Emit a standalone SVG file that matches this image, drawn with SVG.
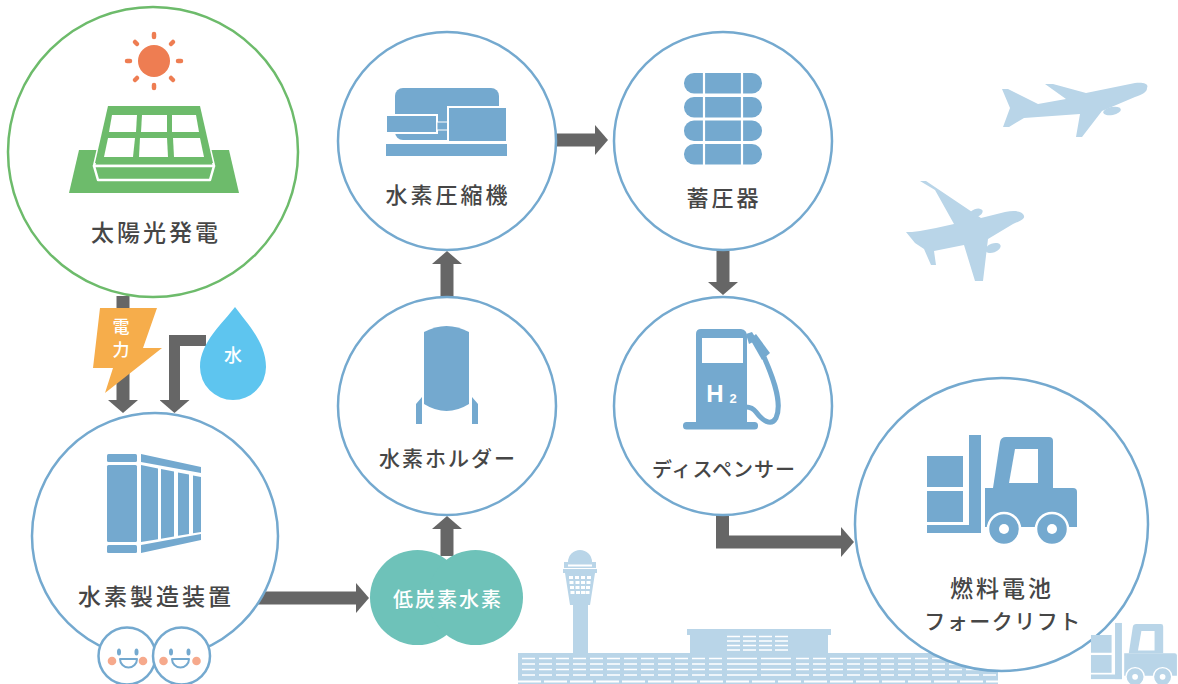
<svg xmlns="http://www.w3.org/2000/svg" width="1178" height="684" viewBox="0 0 1178 684">
  <style>
    .ring { fill: #ffffff; stroke: #74a9cf; stroke-width: 2.5; }
    .icon { fill: #74a9cf; }
    .pale { fill: #b9d5e8; }
    .label { font-family: "Noto Sans CJK JP", "Noto Sans", sans-serif; font-weight: 500; fill: #464646; text-anchor: middle; }
    .wlabel { font-family: "Noto Sans CJK JP", "Noto Sans", sans-serif; font-weight: 500; fill: #ffffff; text-anchor: middle; }
    .flow { fill: none; stroke: #666666; stroke-width: 13; stroke-linejoin: miter; marker-end: url(#head); }
    .win { stroke: #ffffff; stroke-width: 1.7; fill: none; }
  </style>
  <defs>
    <marker id="head" markerUnits="userSpaceOnUse" viewBox="0 0 13 30" markerWidth="13" markerHeight="30" refX="0" refY="15" orient="auto">
      <path d="M0,0 L13,15 L0,30 Z" fill="#666666"/>
    </marker>
    <!-- forklift silhouette, fill inherited from the <use> -->
    <g id="forklift-shape">
      <rect x="927" y="456" width="36" height="31"/>
      <rect x="927" y="491" width="36" height="31"/>
      <rect x="969" y="435" width="12" height="98"/>
      <rect x="927" y="525" width="54" height="8"/>
      <path d="M993,488 L1000,442 Q1001,437 1006,437 L1049,437 Q1053,437 1053,441 L1053,488 Z"/>
      <path d="M985,488 L1073,488 Q1077,488 1077,492 L1077,527 L985,527 Z"/>
      <polygon points="1015,449 1038,449 1038,483 1009,483" fill="#ffffff"/>
      <circle cx="1004" cy="529" r="16" stroke="#ffffff" stroke-width="2.5"/>
      <circle cx="1004" cy="529" r="5" fill="#ffffff"/>
      <circle cx="1052" cy="529" r="16" stroke="#ffffff" stroke-width="2.5"/>
      <circle cx="1052" cy="529" r="5" fill="#ffffff"/>
    </g>
  </defs>

  <rect width="1178" height="684" fill="#ffffff"/>

  <!-- background scenery -->
  <g id="planes" class="pale">
    <path d="M1147,88 C1149,84 1144,82 1135,83 L1086,93 L1053,84 L1045,84 L1066,99 L1038,104 L1008,89 L1002,89 L1010,108 L1003,127 L1009,127 L1024,118 L1080,114 L1076,137 L1082,137 L1102,111 L1135,97 C1143,94 1147,92 1147,88 Z"/>
    <ellipse cx="1112" cy="111" rx="9" ry="4" transform="rotate(-12 1112 111)"/>
    <path d="M1024,216 C1023,211 1015,210 1005,212 L981,218 L926,181 L920,181 L935,190 L954,224 L936,228 L920,231 L912,232 L906,232 L915,243 L924,249 L931,265 L936,265 L934,251 L964,245 L975,281 L983,281 L988,239 L1013,224 C1020,221 1025,219 1024,216 Z"/>
    <ellipse cx="976" cy="213" rx="7" ry="4" transform="rotate(-20 976 213)"/>
    <ellipse cx="993" cy="248" rx="8" ry="4.5" transform="rotate(-20 993 248)"/>
  </g>

  <g id="airport">
    <g class="pale">
      <path d="M568,562 A12,12 0 0 1 592,562 Z"/>
      <rect x="564" y="562" width="32" height="6"/>
      <rect x="563" y="569" width="34" height="4"/>
      <polygon points="565,573 595,573 590,605 570,605"/>
      <rect x="573" y="604" width="15" height="50"/>
      <rect x="687" y="629" width="144" height="6"/>
      <rect x="690" y="634" width="138" height="20"/>
      <rect x="518" y="653" width="480" height="31"/>
    </g>
    <rect x="568" y="564.5" width="24" height="2" fill="#ffffff"/>
    <g fill="#ffffff">
      <rect x="569" y="576" width="4" height="3"/><rect x="575" y="576" width="4" height="3"/><rect x="581" y="576" width="4" height="3"/><rect x="587" y="576" width="4" height="3"/>
      <rect x="569.5" y="581" width="4" height="3"/><rect x="575.5" y="581" width="4" height="3"/><rect x="581" y="581" width="4" height="3"/><rect x="586.5" y="581" width="4" height="3"/>
      <rect x="570" y="586" width="4" height="3"/><rect x="575.5" y="586" width="4" height="3"/><rect x="581" y="586" width="4" height="3"/><rect x="586" y="586" width="4" height="3"/>
      <rect x="570.5" y="591" width="4" height="3"/><rect x="576" y="591" width="4" height="3"/><rect x="581" y="591" width="4" height="3"/><rect x="585.5" y="591" width="4" height="3"/>
    </g>
    <g class="win" stroke-dasharray="13 3">
      <path d="M727,636.5 H791 M727,641 H791 M727,645.5 H791 M727,650 H791"/>
    </g>
    <g class="win" stroke-dasharray="13 4">
      <path d="M522,658.5 H723 M522,664 H723 M522,669.5 H723 M522,675 H723"/>
      <path d="M796,658.5 H996 M796,664 H996 M796,669.5 H996 M796,675 H996"/>
    </g>
    <g class="win" stroke-dasharray="30 4">
      <path d="M727,658.5 H791 M727,664 H791 M727,669.5 H791 M727,675 H791"/>
    </g>
    <path d="M518,681.5 H998" stroke="#ffffff" stroke-width="2" stroke-dasharray="23 3"/>
  </g>

  <!-- flow connectors -->
  <g id="connectors">
    <path class="flow" d="M123,296 V400"/>
    <path class="flow" d="M206,340.5 H174.5 V400" style="stroke-width:11"/>
    <path class="flow" d="M258,598 H356"/>
    <path class="flow" d="M447,556 V529"/>
    <path class="flow" d="M447,297 V264"/>
    <path class="flow" d="M556,140 H595"/>
    <path class="flow" d="M723,250 V282"/>
    <path class="flow" d="M722.5,514 V542 H841"/>
  </g>

  <!-- solar power -->
  <g id="solar">
    <circle cx="153" cy="152" r="145" fill="#ffffff" stroke="#6dbb6b" stroke-width="2.5"/>
    <circle cx="154" cy="61" r="16" fill="#ee7d52"/>
    <g stroke="#ee7d52" stroke-width="4.5" stroke-linecap="round">
      <line x1="154" y1="37" x2="154" y2="34"/>
      <line x1="154" y1="85" x2="154" y2="88"/>
      <line x1="130" y1="61" x2="127" y2="61"/>
      <line x1="178" y1="61" x2="181" y2="61"/>
      <line x1="137" y1="44" x2="135" y2="42"/>
      <line x1="171" y1="44" x2="173" y2="42"/>
      <line x1="137" y1="78" x2="135" y2="80"/>
      <line x1="171" y1="78" x2="173" y2="80"/>
    </g>
    <polygon points="79,150 229,150 239,193 69,193" fill="#6dbb6b"/>
    <polygon points="108,106 200,106 214,166 94,166" fill="#6dbb6b" stroke="#ffffff" stroke-width="2.5" stroke-linejoin="round"/>
    <polygon points="94,166 214,166 210,180 98,180" fill="#6dbb6b" stroke="#ffffff" stroke-width="2.5" stroke-linejoin="round"/>
    <polygon points="108,106 200,106 213,163 95,163" fill="#6dbb6b"/>
    <g fill="#ffffff">
      <polygon points="112,115 137,115 136,132 109,132"/>
      <polygon points="142,115 167,115 167,132 141,132"/>
      <polygon points="172,115 196,115 199,132 172,132"/>
      <polygon points="108,138 135,138 133,157 104,157"/>
      <polygon points="140,138 167,138 168,157 139,157"/>
      <polygon points="173,138 200,138 204,157 174,157"/>
    </g>
    <text class="label" x="156" y="241" font-size="23" letter-spacing="3">太陽光発電</text>
  </g>

  <!-- electricity and water inputs -->
  <g id="power">
    <polygon points="100,308 157,308 143,348 162,348 105,393 113,368 93,368" fill="#f6ad4b"/>
    <text class="wlabel" x="121" y="333" font-size="17">電</text>
    <text class="wlabel" x="121" y="356" font-size="17">力</text>
  </g>
  <g id="water">
    <path d="M235,307 C246,322 266,342 266,367 A33,33 0 0 1 200,367 C200,342 224,322 235,307 Z" fill="#5ec5ef"/>
    <text class="wlabel" x="233" y="362" font-size="18">水</text>
  </g>

  <!-- electrolyser -->
  <g id="electrolyzer">
    <circle class="ring" cx="155" cy="536" r="123"/>
    <g class="icon">
      <rect x="107" y="454" width="30" height="8" rx="1.5"/>
      <rect x="107" y="465" width="30" height="77" rx="1.5"/>
      <rect x="107" y="545" width="30" height="8" rx="1.5"/>
      <polygon points="141,454 201,467 201,473 141,462"/>
      <polygon points="141,545 201,534 201,540 141,553"/>
      <polygon points="141,465 158,468.4 158,539.2 141,542"/>
      <polygon points="161,469 174,471.6 174,536.5 161,538.7"/>
      <polygon points="178,472.4 189,474.6 189,534 178,535.8"/>
      <polygon points="193,475.4 201,477 201,532 193,533.3"/>
    </g>
    <text class="label" x="156" y="605" font-size="23" letter-spacing="3">水素製造装置</text>
    <g id="faces">
      <circle class="ring" cx="127" cy="656" r="28.5"/>
      <circle class="ring" cx="181.5" cy="656" r="28.5"/>
      <g class="icon">
        <ellipse cx="119" cy="652" rx="2" ry="3.5"/>
        <ellipse cx="136.5" cy="652" rx="2" ry="3.5"/>
        <ellipse cx="171" cy="652" rx="2" ry="3.5"/>
        <ellipse cx="188.5" cy="652" rx="2" ry="3.5"/>
      </g>
      <g fill="#f6a98c">
        <circle cx="112" cy="661" r="4.3"/>
        <circle cx="143" cy="661" r="4.3"/>
        <circle cx="163.5" cy="661" r="4.3"/>
        <circle cx="196.5" cy="661" r="4.3"/>
      </g>
      <g fill="#ffffff" stroke="#74a9cf" stroke-width="2" stroke-linejoin="round">
        <path d="M120,659 H137 A8.5,8.5 0 0 1 120,659 Z"/>
        <path d="M172,659 H189 A8.5,8.5 0 0 1 172,659 Z"/>
      </g>
    </g>
  </g>

  <!-- low-carbon hydrogen -->
  <g id="low-carbon">
    <circle cx="417.5" cy="597.5" r="47.5" fill="#6ec2b9"/>
    <circle cx="475.5" cy="597.5" r="47.5" fill="#6ec2b9"/>
    <text class="wlabel" x="448" y="607" font-size="20" letter-spacing="2">低炭素水素</text>
  </g>

  <!-- hydrogen holder -->
  <g id="holder">
    <circle class="ring" cx="447" cy="406" r="109"/>
    <g class="icon">
      <path d="M424,332 Q446.5,320 469,332 L469,404 Q446.5,418 424,404 Z"/>
      <polygon points="416,404 422,397 422,424 416,424"/>
      <polygon points="472,397 478,404 478,424 472,424"/>
    </g>
    <text class="label" x="448" y="466" font-size="21" letter-spacing="2">水素ホルダー</text>
  </g>

  <!-- hydrogen compressor -->
  <g id="compressor">
    <circle class="ring" cx="447" cy="141" r="109"/>
    <g class="icon">
      <rect x="395" y="88" width="104" height="52" rx="8"/>
      <rect x="386" y="115" width="51" height="18" stroke="#ffffff" stroke-width="2"/>
      <rect x="437" y="122" width="11" height="8" stroke="#ffffff" stroke-width="1"/>
      <rect x="448" y="107" width="59" height="35" stroke="#ffffff" stroke-width="2"/>
      <rect x="386" y="144" width="121" height="12"/>
    </g>
    <text class="label" x="448" y="203" font-size="22" letter-spacing="3">水素圧縮機</text>
  </g>

  <!-- accumulator -->
  <g id="accumulator">
    <circle class="ring" cx="723" cy="141" r="109"/>
    <g class="icon">
      <rect x="684" y="73" width="78" height="20.5" rx="10"/>
      <rect x="684" y="97" width="78" height="20.5" rx="10"/>
      <rect x="684" y="120.5" width="78" height="20.5" rx="10"/>
      <rect x="684" y="144" width="78" height="20.5" rx="10"/>
    </g>
    <path d="M704,72 V166 M742,72 V166" stroke="#ffffff" stroke-width="2.2"/>
    <text class="label" x="724" y="206" font-size="22" letter-spacing="3">蓄圧器</text>
  </g>

  <!-- dispenser -->
  <g id="dispenser">
    <circle class="ring" cx="723" cy="406" r="109"/>
    <g class="icon">
      <path d="M696,334 Q696,329 701,329 L741,329 Q747,330 747,336 L747,424 L696,424 Z"/>
      <rect x="683" y="422" width="75" height="7.5" rx="3.5"/>
      <polygon points="746,334 752,332 757,340 749,344"/>
      <polygon points="750,339 756,334 770,353 762,360"/>
    </g>
    <path d="M764,357 C776,384 782,405 776,418 C771,427 762,420 756,412 C753,408 750,407 746,407" fill="none" stroke="#74a9cf" stroke-width="5"/>
    <rect x="702" y="338" width="41" height="25" fill="#ffffff"/>
    <text x="715" y="402" font-family="Liberation Sans, Arial, sans-serif" font-weight="bold" font-size="24" fill="#ffffff" text-anchor="middle">H</text>
    <text x="733" y="403" font-family="Liberation Sans, Arial, sans-serif" font-weight="bold" font-size="13" fill="#ffffff" text-anchor="middle">2</text>
    <text class="label" x="724" y="477" font-size="20" letter-spacing="1">ディスペンサー</text>
  </g>

  <!-- fuel-cell forklift -->
  <g id="forklift">
    <circle class="ring" cx="1001.5" cy="524.5" r="146.5"/>
    <use href="#forklift-shape" fill="#74a9cf"/>
    <text class="label" x="1002" y="597" font-size="23" letter-spacing="3">燃料電池</text>
    <text class="label" x="1003" y="629" font-size="21" letter-spacing="1.5">フォークリフト</text>
  </g>

  <!-- small forklift in the scenery -->
  <use id="forklift-small" href="#forklift-shape" fill="#b9d5e8" transform="translate(559.8 373.7) scale(0.573)"/>
</svg>
